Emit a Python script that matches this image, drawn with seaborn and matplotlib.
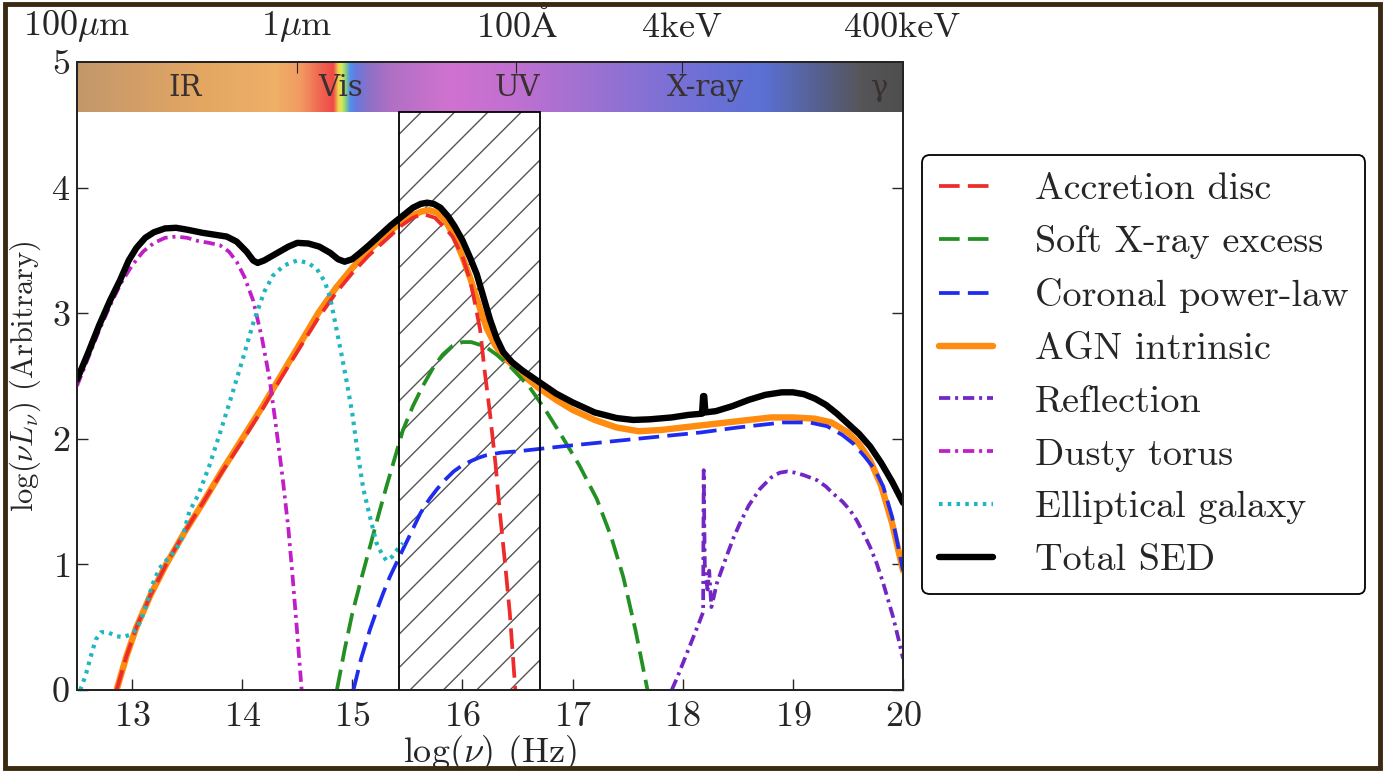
import numpy as np
import pandas as pd
import matplotlib
matplotlib.use("Agg")
import matplotlib.pyplot as plt
import seaborn as sns
from matplotlib.colors import LinearSegmentedColormap
from matplotlib.patches import Rectangle

# ---------------- data ----------------
agn_x = [12.86, 12.95, 13.04, 13.17, 13.31, 13.48, 13.65, 13.82, 14.0, 14.18, 14.35, 14.52, 14.69,
         14.85, 15.0, 15.15, 15.3, 15.45, 15.55, 15.63, 15.70, 15.77, 15.85, 15.93, 16.0, 16.07,
         16.15, 16.22, 16.3, 16.4, 16.5, 16.6, 16.7, 16.85, 17.0, 17.2, 17.4, 17.6, 17.8, 18.0,
         18.2, 18.4, 18.6, 18.8, 19.0, 19.2, 19.35, 19.5, 19.6, 19.7, 19.8, 19.9, 20.0]
agn_y = [0.0, 0.27, 0.5, 0.76, 1.0, 1.26, 1.5, 1.75, 2.0, 2.25, 2.5, 2.75, 3.0,
         3.2, 3.36, 3.50, 3.62, 3.73, 3.78, 3.81, 3.82, 3.80, 3.73, 3.60, 3.45, 3.28,
         3.06, 2.88, 2.74, 2.63, 2.55, 2.47, 2.40, 2.31, 2.23, 2.15, 2.09, 2.06, 2.07, 2.09,
         2.11, 2.13, 2.15, 2.17, 2.17, 2.16, 2.13, 2.05, 1.96, 1.83, 1.63, 1.33, 0.95]

disc_x = [12.86, 12.95, 13.04, 13.17, 13.31, 13.48, 13.65, 13.82, 14.0, 14.18, 14.35, 14.52, 14.69,
          14.85, 15.0, 15.15, 15.3, 15.45, 15.55, 15.64, 15.75, 15.85, 15.91, 16.0, 16.07, 16.12,
          16.16, 16.2, 16.25, 16.3, 16.34, 16.39, 16.43, 16.48]
disc_y = [0.0, 0.27, 0.5, 0.76, 1.0, 1.26, 1.5, 1.74, 1.98, 2.23, 2.48, 2.72, 2.96,
          3.16, 3.32, 3.46, 3.58, 3.70, 3.76, 3.79, 3.76, 3.67, 3.61, 3.45, 3.26, 3.05,
          2.87, 2.55, 2.20, 1.80, 1.41, 0.98, 0.61, 0.0]

soft_x = [14.86, 14.93, 15.0, 15.08, 15.16, 15.24, 15.31, 15.39, 15.46, 15.55, 15.64, 15.73, 15.82,
          15.91, 16.0, 16.08, 16.15, 16.23, 16.31, 16.45, 16.61, 16.76, 16.91, 17.06, 17.22, 17.35,
          17.46, 17.57, 17.68]
soft_y = [0.0, 0.32, 0.61, 0.88, 1.14, 1.40, 1.62, 1.86, 2.07, 2.26, 2.42, 2.56, 2.67,
          2.74, 2.77, 2.77, 2.75, 2.72, 2.67, 2.56, 2.41, 2.22, 2.01, 1.79, 1.52, 1.22,
          0.90, 0.48, 0.0]

corona_x = [15.01, 15.08, 15.16, 15.22, 15.28, 15.34, 15.40, 15.46, 15.51, 15.57, 15.62, 15.7, 15.77,
            15.85, 15.92, 16.0, 16.07, 16.15, 16.22, 16.35, 16.5, 16.91, 17.25, 17.7, 18.16, 18.5,
            18.91, 19.15, 19.31, 19.45, 19.55, 19.65, 19.74, 19.82, 19.9, 20.0]
corona_y = [0.0, 0.25, 0.48, 0.63, 0.77, 0.90, 1.01, 1.12, 1.21, 1.32, 1.41, 1.52, 1.60,
            1.68, 1.74, 1.79, 1.82, 1.85, 1.87, 1.89, 1.90, 1.94, 1.97, 2.01, 2.05, 2.09,
            2.13, 2.13, 2.10, 2.03, 1.96, 1.86, 1.76, 1.62, 1.38, 0.95]

refl_x = [17.90, 17.95, 18.0, 18.05, 18.1, 18.15, 18.185, 18.19, 18.20, 18.21, 18.225, 18.24, 18.26,
          18.31, 18.4, 18.46, 18.52, 18.6, 18.7, 18.8, 18.88, 18.95, 19.02, 19.1, 19.22, 19.3,
          19.37, 19.45, 19.52, 19.58, 19.64, 19.7, 19.76, 19.82, 19.87, 19.91, 19.96, 20.0]
refl_y = [0.0, 0.10, 0.21, 0.32, 0.43, 0.54, 0.62, 1.75, 1.0, 0.90, 0.80, 0.95, 0.66,
          0.85, 1.07, 1.21, 1.33, 1.47, 1.60, 1.69, 1.73, 1.74, 1.73, 1.71, 1.67, 1.62,
          1.56, 1.50, 1.43, 1.35, 1.25, 1.14, 1.01, 0.85, 0.70, 0.58, 0.40, 0.25]

torus_x = [12.5, 12.6, 12.7, 12.8, 12.9, 13.0, 13.1, 13.2, 13.3, 13.4, 13.5, 13.6, 13.7, 13.8,
           13.88, 13.95, 14.02, 14.1, 14.18, 14.25, 14.31, 14.37, 14.42, 14.46, 14.5, 14.54]
torus_y = [2.42, 2.64, 2.86, 3.06, 3.24, 3.38, 3.49, 3.56, 3.60, 3.61, 3.60, 3.575, 3.56, 3.54,
           3.49, 3.41, 3.29, 3.10, 2.80, 2.47, 2.08, 1.67, 1.28, 0.88, 0.45, 0.0]

gal_x = [12.53, 12.58, 12.62, 12.67, 12.72, 12.78, 12.85, 12.92, 12.98, 13.04, 13.1, 13.19, 13.25,
         13.32, 13.40, 13.46, 13.52, 13.6, 13.7, 13.8, 13.9, 14.0, 14.1, 14.2, 14.28, 14.38, 14.5,
         14.6, 14.68, 14.75, 14.8, 14.85, 14.9, 14.95, 15.0, 15.05, 15.1, 15.16, 15.22, 15.27,
         15.31, 15.36, 15.41, 15.46]
gal_y = [0.0, 0.12, 0.25, 0.40, 0.46, 0.46, 0.43, 0.42, 0.44, 0.48, 0.60, 0.85, 0.97,
         1.04, 1.12, 1.22, 1.42, 1.55, 1.78, 2.05, 2.33, 2.62, 2.92, 3.17, 3.30, 3.38, 3.42,
         3.40, 3.35, 3.25, 3.12, 2.90, 2.68, 2.45, 2.20, 1.88, 1.60, 1.38, 1.17, 1.08,
         1.03, 1.06, 1.12, 1.17]

total_x = [12.5, 12.6, 12.7, 12.8, 12.89, 12.97, 13.04, 13.12, 13.2, 13.3, 13.4, 13.5, 13.64, 13.75,
           13.86, 13.95, 14.04, 14.1, 14.14, 14.2, 14.32, 14.42, 14.5, 14.6, 14.7, 14.8, 14.87,
           14.93, 15.0, 15.07, 15.15, 15.25, 15.35, 15.45, 15.55, 15.62, 15.68, 15.74, 15.8, 15.87,
           15.93, 16.0, 16.07, 16.13, 16.19, 16.25, 16.31, 16.37, 16.45, 16.55, 16.7, 16.85, 17.0,
           17.2, 17.4, 17.55, 17.7, 17.9, 18.05, 18.175, 18.185, 18.195, 18.205, 18.3, 18.45, 18.6,
           18.75, 18.9, 19.0, 19.1, 19.2, 19.3, 19.4, 19.5, 19.6, 19.7, 19.8, 19.9, 20.0]
total_y = [2.47, 2.68, 2.90, 3.10, 3.26, 3.42, 3.52, 3.60, 3.645, 3.675, 3.68, 3.665, 3.64, 3.625,
           3.61, 3.57, 3.49, 3.42, 3.40, 3.42, 3.48, 3.53, 3.56, 3.555, 3.53, 3.48, 3.43,
           3.41, 3.43, 3.48, 3.54, 3.62, 3.70, 3.77, 3.84, 3.87, 3.88, 3.87, 3.84, 3.77,
           3.69, 3.58, 3.44, 3.31, 3.13, 2.95, 2.80, 2.69, 2.61, 2.54, 2.45, 2.36, 2.29,
           2.21, 2.165, 2.15, 2.155, 2.17, 2.19, 2.20, 2.34, 2.34, 2.21, 2.22, 2.26, 2.31,
           2.35, 2.37, 2.37, 2.355, 2.32, 2.27, 2.20, 2.12, 2.04, 1.94, 1.81, 1.66, 1.49]

# top axis (wavelength / energy) ticks
top_tick_pos = [12.48, 14.48, 16.48, 17.99, 19.99]
top_tick_labels = [r'100$\mu$m', r'1$\mu$m', r'100$\mathrm{\AA}$', '4keV', '400keV']

# spectral band labels
band_names = ['IR', 'Vis', 'UV', 'X-ray', 'γ']
band_pos = [13.48, 14.89, 16.5, 18.21, 19.79]

# shaded UV-gap region
gap_x0, gap_x1, gap_top = 15.42, 16.70, 4.6

# ---------------- style ----------------
sns.set_style("ticks")
plt.rcParams['font.family'] = ['cmr10', 'DejaVu Serif']
plt.rcParams['mathtext.fontset'] = 'cm'
plt.rcParams['axes.formatter.use_mathtext'] = True
plt.rcParams['axes.unicode_minus'] = False
plt.rcParams['hatch.linewidth'] = 1.0
FS = 26

fig = plt.figure(figsize=(13.99, 7.73), dpi=100)
ax = fig.add_axes([0.055, 0.1074, 0.5905, 0.8124])

def line(x, y, color, lw, ls, label, z):
    df = pd.DataFrame({'x': x, 'y': y})
    sns.lineplot(data=df, x='x', y='y', ax=ax, color=color, linewidth=lw, linestyle=ls,
                 label=label, estimator=None, sort=False, zorder=z)

dash = (0, (5.5, 2.2))
dashdot = (0, (3.0, 1.3, 0.8, 1.3))
line(agn_x, agn_y, '#ff8c0f', 4.6, '-', 'AGN intrinsic', 3)
line(disc_x, disc_y, '#ee2b2b', 2.7, dash, 'Accretion disc', 4)
line(soft_x, soft_y, '#229022', 2.7, dash, 'Soft X-ray excess', 4)
line(corona_x, corona_y, '#1f2bee', 2.7, dash, 'Coronal power-law', 4)
line(refl_x, refl_y, '#7326c4', 2.7, dashdot, 'Reflection', 4)
line(torus_x, torus_y, '#c01fc8', 2.7, dashdot, 'Dusty torus', 4)
line(gal_x, gal_y, '#1fb7bf', 3.0, (0, (0.85, 1.25)), 'Elliptical galaxy', 4)
line(total_x, total_y, 'black', 4.6, '-', 'Total SED', 5)

# hatched region
ax.add_patch(Rectangle((gap_x0, 0), gap_x1 - gap_x0, gap_top, facecolor='none',
                       edgecolor='#555555', hatch='/', linewidth=0, zorder=1))
ax.add_patch(Rectangle((gap_x0, 0), gap_x1 - gap_x0, gap_top, facecolor='none',
                       edgecolor='black', linewidth=1.3, zorder=6))

# spectral band gradient
stops = [(0.0, '#c3976c'), (0.15, '#e3a762'), (0.24, '#efb068'), (0.27, '#f29a62'),
         (0.295, '#f06451'), (0.31, '#f04848'), (0.316, '#f0d84a'), (0.32, '#d8e860'),
         (0.324, '#90d870'), (0.330, '#5090ee'), (0.338, '#6a78dc'), (0.355, '#9070c4'),
         (0.38, '#b070c4'), (0.45, '#d072d0'), (0.53, '#c070d0'), (0.63, '#9a72d2'),
         (0.75, '#7070d6'), (0.83, '#5a70d4'), (0.90, '#56608c'), (0.95, '#555558'),
         (1.0, '#4e4e4e')]
cmap = LinearSegmentedColormap.from_list('band', stops, N=1024)
grad = np.linspace(0, 1, 1024)[None, :]
ax.imshow(grad, cmap=cmap, extent=[12.5, 20, 4.6, 5.0], aspect='auto', zorder=2,
          interpolation='bilinear')
for name, xp in zip(band_names, band_pos):
    ax.text(xp, 4.79, name, ha='center', va='center', fontsize=21, color='#3a3030',
            family=['DejaVu Serif'], zorder=7)

ax.set_xlim(12.5, 20)
ax.set_ylim(0, 5)
ax.set_xticks(range(13, 21))
ax.set_yticks(range(0, 6))
ax.tick_params(axis='both', direction='in', labelsize=FS, length=8, width=1,
               top=False, right=True, pad=8)
ax.tick_params(axis='y', pad=5)
for s in ax.spines.values():
    s.set_linewidth(1.3)
    s.set_color('black')
ax.set_xlabel(r'log($\nu$) (Hz)', fontsize=FS, labelpad=0)
ax.set_ylabel(r'log($\nu L_\nu$) (Arbitrary)', fontsize=22, labelpad=6)

ax2 = ax.twiny()
ax2.set_xlim(ax.get_xlim())
ax2.set_xticks(top_tick_pos)
ax2.set_xticklabels(top_tick_labels)
ax2.tick_params(axis='x', direction='in', labelsize=FS, length=8, pad=13)
for s in ax2.spines.values():
    s.set_linewidth(1.3)

ax.legend_.remove()
handles, labels = ax.get_legend_handles_labels()
order = ['Accretion disc', 'Soft X-ray excess', 'Coronal power-law', 'AGN intrinsic',
         'Reflection', 'Dusty torus', 'Elliptical galaxy', 'Total SED']
hmap = dict(zip(labels, handles))
leg = fig.legend([hmap[o] for o in order], order, loc='upper left',
                 bbox_to_anchor=(0.659, 0.7995), fontsize=27.5, frameon=True, fancybox=True,
                 handlelength=1.4, handletextpad=1.1, labelspacing=0.5, borderpad=0.45,
                 borderaxespad=0, edgecolor='black', framealpha=1)
leg.get_frame().set_linewidth(1.3)

# outer brown frame
fig.patches.append(Rectangle((0.0036, 0.0065), 0.983, 0.988, transform=fig.transFigure,
                             facecolor='none', edgecolor='#3b2a12', linewidth=3.5))

fig.savefig('out.png', dpi=100, facecolor='white')
